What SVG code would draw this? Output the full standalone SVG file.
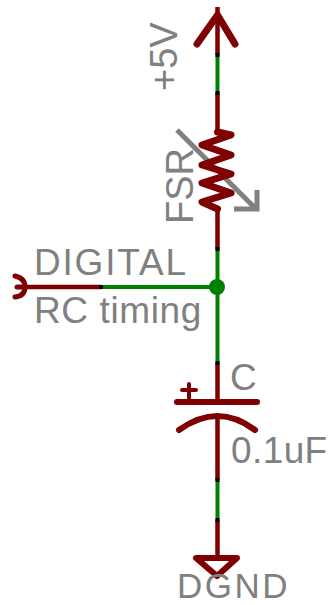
<svg xmlns="http://www.w3.org/2000/svg" width="330" height="605" viewBox="0 0 330 605">
<style>
.r{fill:none;stroke:#7f0000;stroke-linecap:round;stroke-linejoin:round}
.g{fill:none;stroke:#008000;stroke-width:4}
.w{fill:none;stroke:#7f0000;stroke-width:4.500}
.b{fill:#000}
.t{font-family:"Liberation Sans",Arial,sans-serif;fill:#808080;font-size:37px}
</style>
<rect width="330" height="605" fill="#fff"/>
<g id="connectors">
<path class="w" d="M217.500 7V55M217.500 93V132M217.500 208V249M217.500 363V403M217.500 416V480M217.500 520V558M25 287H101"/>
<path class="g" d="M217.500 55V93M217.500 249V363M217.500 480V520M101 287H217.500"/>
<path class="b" d="M215.500 53h4v4h-4zM215.500 91h4v4h-4zM215.500 247h4v4h-4zM215.500 361h4v4h-4zM215.500 478h4v4h-4zM215.500 518h4v4h-4zM99 285h4v4h-4z"/>
<circle id="junction" cx="217" cy="287" r="8" fill="#008000"/>
</g>
<g id="vcc">
<path class="r" stroke-width="7" d="M197 44L217.500 15L235 44"/>
<text class="t" transform="translate(177 91) rotate(-90)" style="font-size:38px">+5V</text>
</g>
<g id="fsr">
<path fill="none" stroke="#808080" stroke-width="5" d="M177 130L254 207M257 190V209H234"/>
<path class="r" stroke-width="7" d="M217.500 132L231 135L202 145L231 155L202 165L231 174L202 183L231 193L202 202L217.500 209"/>
<text class="t" transform="translate(193 224) rotate(-90)" style="font-size:38px">FSR</text>
</g>
<g id="digital">
<path class="r" stroke-width="5" d="M15 276Q25 278 25 287Q25 296 15 297"/>
<path class="r" stroke-width="5" d="M17 287H25"/>
<text class="t" x="34" y="275" style="letter-spacing:1.800px">DIGITAL</text>
<text class="t" x="34" y="323" style="letter-spacing:0.600px">RC timing</text>
</g>
<g id="cap">
<path class="r" stroke-width="6" d="M177 402H257"/>
<path class="r" stroke-width="4" d="M182 390H196M189 384V400"/>
<path class="r" stroke-width="6" d="M179 430Q218 402 255 430"/>
<text class="t" x="230" y="390">C</text>
<text class="t" x="231" y="463" style="letter-spacing:0.400px">0.1uF</text>
</g>
<g id="dgnd">
<path class="r" stroke-width="6" d="M196 558H237L217 576Z"/>
<text class="t" x="177" y="598" style="font-size:35px;letter-spacing:2.500px">DGND</text>
</g>
</svg>
